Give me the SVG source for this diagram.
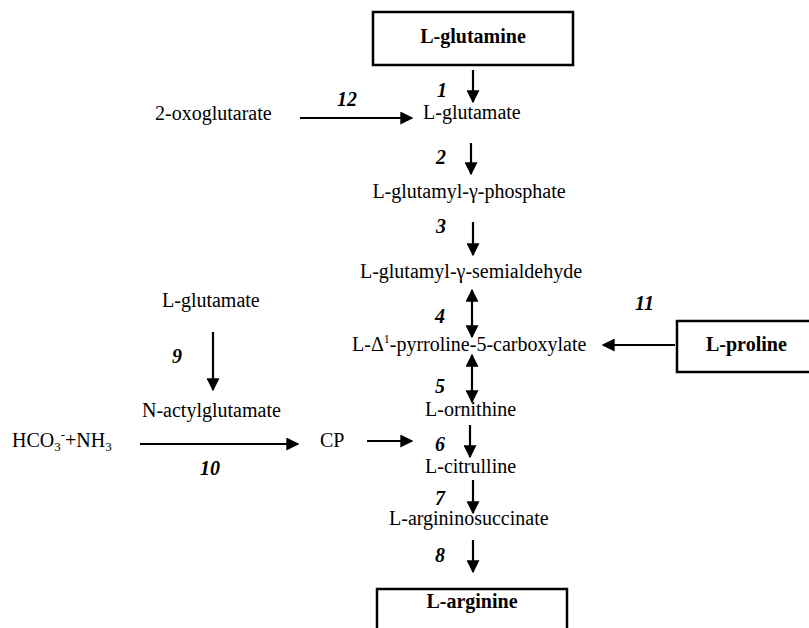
<svg xmlns="http://www.w3.org/2000/svg" width="809" height="628" viewBox="0 0 809 628" font-family="'Liberation Serif', 'Times New Roman', 'DejaVu Serif', serif">
<style>
text{font-family:'Liberation Serif','Times New Roman','DejaVu Serif',serif;font-size:20px;fill:#000}
.b{font-weight:bold}
.n{font-weight:bold;font-style:italic}
.box{fill:#fff;stroke:#000;stroke-width:2.5}
.c line{stroke:#000;stroke-width:2.2;marker-end:url(#ah)}
.c line.d{marker-start:url(#ah)}
</style>
<defs>
<marker id="ah" markerUnits="userSpaceOnUse" markerWidth="13" markerHeight="13" viewBox="0 0 10 10" refX="9" refY="5" orient="auto-start-reverse">
<path d="M0,0 L10,5 L0,10 z" fill="#000"/>
</marker>
</defs>
<rect width="809" height="628" fill="#fff"/>
<g id="glutamine"><rect class="box" x="373" y="12" width="200" height="53"/><text class="b" x="473" y="43" text-anchor="middle">L-glutamine</text></g>
<g id="glutamate"><text x="423" y="119">L-glutamate</text></g>
<g id="oxoglutarate"><text x="155" y="120">2-oxoglutarate</text></g>
<g id="phosphate"><text x="469" y="198" text-anchor="middle">L-glutamyl-γ-phosphate</text></g>
<g id="semialdehyde"><text x="471" y="278" text-anchor="middle">L-glutamyl-γ-semialdehyde</text></g>
<g id="p5c"><text x="352" y="351">L-Δ<tspan dy="-8" font-size="12">1</tspan><tspan dy="8">-pyrroline-5-carboxylate</tspan></text></g>
<g id="proline"><rect class="box" x="677" y="321" width="140" height="51"/><text class="b" x="706" y="351">L-proline</text></g>
<g id="glutamate2"><text x="162" y="307">L-glutamate</text></g>
<g id="nag"><text x="142" y="417">N-actylglutamate</text></g>
<g id="hco3"><text x="12" y="447">HCO<tspan dy="4" font-size="13">3</tspan><tspan dy="-12" font-size="13">-</tspan><tspan dy="8">+NH</tspan><tspan dy="4" font-size="13">3</tspan></text></g>
<g id="cp"><text x="320" y="447">CP</text></g>
<g id="ornithine"><text x="425" y="416">L-ornithine</text></g>
<g id="citrulline"><text x="425" y="473">L-citrulline</text></g>
<g id="argininosuccinate"><text x="389" y="525">L-argininosuccinate</text></g>
<g id="arginine"><rect class="box" x="377" y="589" width="190" height="60"/><text class="b" x="472" y="608" text-anchor="middle">L-arginine</text></g>
<g class="c" id="connectors">
<line x1="473" y1="70" x2="473" y2="102"/>
<line x1="300" y1="118" x2="412" y2="118"/>
<line x1="471" y1="143" x2="471" y2="174"/>
<line x1="473" y1="222" x2="473" y2="255"/>
<line class="d" x1="472" y1="290" x2="472" y2="337"/>
<line x1="675" y1="345" x2="603" y2="345"/>
<line class="d" x1="472" y1="355" x2="472" y2="402"/>
<line x1="213" y1="332" x2="213" y2="390"/>
<line x1="140" y1="444" x2="298" y2="444"/>
<line x1="367" y1="441" x2="412" y2="441"/>
<line x1="470" y1="425" x2="470" y2="457"/>
<line x1="473" y1="480" x2="473" y2="513"/>
<line x1="473" y1="540" x2="473" y2="572"/>
</g>
<g id="labels">
<text class="n" x="437" y="97">1</text>
<text class="n" x="337" y="106">12</text>
<text class="n" x="436" y="164">2</text>
<text class="n" x="436" y="233">3</text>
<text class="n" x="435" y="323">4</text>
<text class="n" x="635" y="310">11</text>
<text class="n" x="435" y="393">5</text>
<text class="n" x="172" y="363">9</text>
<text class="n" x="435" y="451">6</text>
<text class="n" x="200" y="475">10</text>
<text class="n" x="435" y="505">7</text>
<text class="n" x="435" y="562">8</text>
</g>
</svg>
